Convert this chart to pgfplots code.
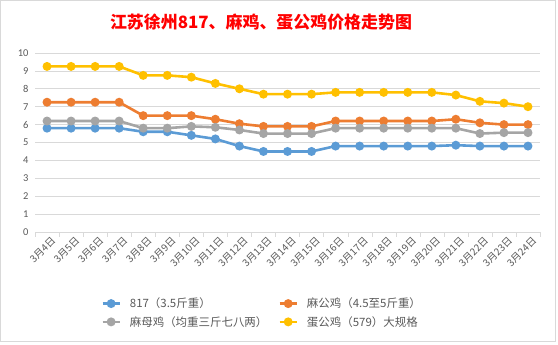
\documentclass[border=0pt]{standalone}
\usepackage{fontspec}
\setmainfont{Carlito}
\newfontfamily\cjk{Noto Sans CJK SC}
\usepackage{pgfplots}
\pgfplotsset{compat=1.18}
\definecolor{cblue}{HTML}{5B9BD5}
\definecolor{corange}{HTML}{ED7D31}
\definecolor{cgray}{HTML}{A5A5A5}
\definecolor{cyellow}{HTML}{FFC000}
\definecolor{ctext}{HTML}{595959}
\definecolor{cgrid}{HTML}{D9D9D9}
\begin{document}
\begin{tikzpicture}[x=1bp,y=1bp]
\useasboundingbox (0,0) rectangle (558,344);
\draw[cgrid] (0.5,3) rectangle (555,343.5);
\node[font=\cjk\bfseries\fontsize{17}{19}\selectfont, text=red] at (261,322) {江苏徐州817、麻鸡、蛋公鸡价格走势图};
\begin{axis}[
  at={(35bp,112bp)}, anchor=south west,
  width=505bp, height=179bp, scale only axis,
  xmin=-0.5, xmax=20.5, ymin=0, ymax=10,
  ytick={0,1,...,10},
  xtick={0,1,...,20},
  xticklabels={3月4日,3月5日,3月6日,3月7日,3月8日,3月9日,3月10日,3月11日,3月12日,3月13日,3月14日,3月15日,3月16日,3月17日,3月18日,3月19日,3月20日,3月21日,3月22日,3月23日,3月24日},
  minor xtick={-0.5,0.5,...,20.5},
  axis x line*=bottom, axis y line*=left,
  x axis line style={cgrid, -},
  y axis line style={draw=none},
  major tick length=0pt,
  minor tick length=4.5bp,
  tick align=outside,
  minor x tick style={cgrid},
  ymajorgrids, grid style={cgrid, line width=0.8pt},
  /pgf/number format/assume math mode=true,
  yticklabel style={font=\fontsize{10.5}{12}\selectfont, text=ctext, xshift=-3bp},
  xticklabel style={font=\cjk\fontsize{10}{11}\selectfont, text=ctext, rotate=45, anchor=north east, xshift=3bp, yshift=-2bp},
  every axis plot/.append style={line width=2.6bp, mark=*, mark size=3.1bp},
  legend columns=2,
  legend cell align=left,
  legend style={draw=none, fill=none, font=\cjk\fontsize{11.5}{13}\selectfont, text=ctext,
    at={(axis description cs:0.125,-0.345)}, anchor=north west,
    /tikz/every odd column/.append style={column sep=7bp},
    /tikz/every even column/.append style={column sep=9bp},
    row sep=3bp},
]
\addplot[cblue] coordinates {(0,5.8)(1,5.8)(2,5.8)(3,5.8)(4,5.6)(5,5.6)(6,5.4)(7,5.2)(8,4.8)(9,4.5)(10,4.5)(11,4.5)(12,4.8)(13,4.8)(14,4.8)(15,4.8)(16,4.8)(17,4.85)(18,4.8)(19,4.8)(20,4.8)};
\addlegendentry{817（3.5斤重）}
\addplot[corange] coordinates {(0,7.25)(1,7.25)(2,7.25)(3,7.25)(4,6.5)(5,6.5)(6,6.5)(7,6.3)(8,6.05)(9,5.9)(10,5.9)(11,5.9)(12,6.2)(13,6.2)(14,6.2)(15,6.2)(16,6.2)(17,6.3)(18,6.1)(19,6.0)(20,6.0)};
\addlegendentry{麻公鸡（4.5至5斤重）}
\addplot[cgray] coordinates {(0,6.2)(1,6.2)(2,6.2)(3,6.2)(4,5.8)(5,5.8)(6,5.9)(7,5.85)(8,5.7)(9,5.5)(10,5.5)(11,5.5)(12,5.8)(13,5.8)(14,5.8)(15,5.8)(16,5.8)(17,5.8)(18,5.5)(19,5.55)(20,5.55)};
\addlegendentry{麻母鸡（均重三斤七八两）}
\addplot[cyellow] coordinates {(0,9.25)(1,9.25)(2,9.25)(3,9.25)(4,8.75)(5,8.75)(6,8.65)(7,8.3)(8,8.0)(9,7.7)(10,7.7)(11,7.7)(12,7.8)(13,7.8)(14,7.8)(15,7.8)(16,7.8)(17,7.65)(18,7.3)(19,7.2)(20,7.0)};
\addlegendentry{蛋公鸡（579）大规格}
\end{axis}
\end{tikzpicture}
\end{document}
